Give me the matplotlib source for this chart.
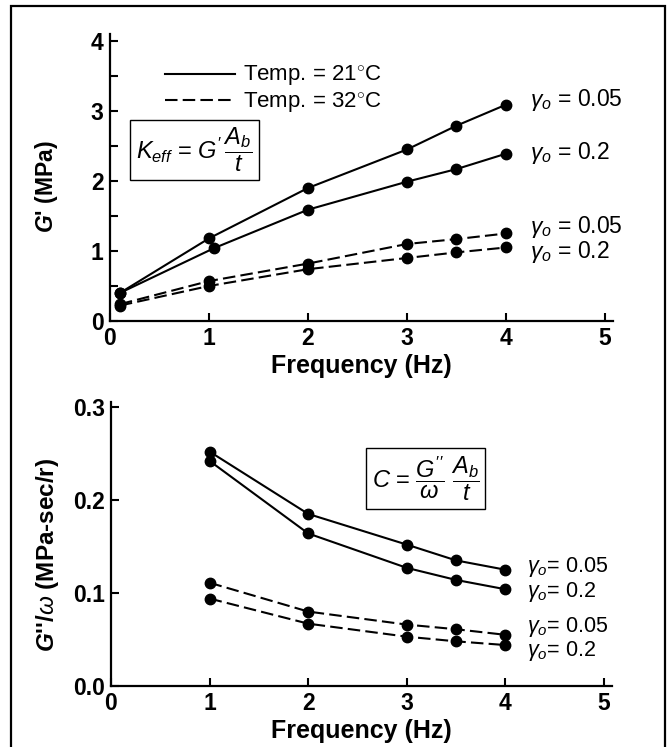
import numpy as np
import matplotlib.pyplot as plt
from matplotlib.lines import Line2D
from matplotlib.patches import Rectangle
import matplotlib
matplotlib.rcParams['font.family'] = 'Liberation Sans'
matplotlib.rcParams['mathtext.fontset'] = 'custom'
matplotlib.rcParams['mathtext.rm'] = 'Liberation Sans'
matplotlib.rcParams['mathtext.it'] = 'Liberation Sans:italic'
matplotlib.rcParams['mathtext.bf'] = 'Liberation Sans:bold:italic'

# storage modulus G' (MPa) vs frequency
freq_g1 = [0.1, 1, 2, 3, 3.5, 4]
freq_g1_b = [0.1, 1.05, 2, 3, 3.5, 4]
g1_21_005 = [0.40, 1.18, 1.90, 2.45, 2.79, 3.09]
g1_21_02 = [0.40, 1.04, 1.59, 1.99, 2.17, 2.39]
g1_32_005 = [0.24, 0.57, 0.82, 1.10, 1.17, 1.25]
g1_32_02 = [0.22, 0.50, 0.74, 0.90, 0.98, 1.05]

# loss modulus / omega (MPa-sec/r) vs frequency
freq_g2 = [1, 2, 3, 3.5, 4]
g2_21_005 = [0.252, 0.185, 0.152, 0.135, 0.125]
g2_21_02 = [0.242, 0.164, 0.127, 0.114, 0.104]
g2_32_005 = [0.111, 0.080, 0.066, 0.061, 0.055]
g2_32_02 = [0.094, 0.067, 0.053, 0.048, 0.044]

xticks = [0, 1, 2, 3, 4, 5]
lw = 1.5
ms = 7.5
dash = (0, (6, 2.5))
tf = 16.5
lf = 18
gf = 16.5

fig = plt.figure(figsize=(6.67, 7.47), dpi=100)
ax1 = fig.add_axes([0.1649, 0.5703, 0.754, 0.3842])
ax2 = fig.add_axes([0.1664, 0.0817, 0.751, 0.3797])

def style(ax):
    for s in ('top', 'right'):
        ax.spines[s].set_visible(False)
    for s in ('left', 'bottom'):
        ax.spines[s].set_linewidth(1.6)
    ax.set_xlim(0, 5.08)
    ax.set_xticks(xticks)
    ax.tick_params(which='both', direction='in', length=6, width=1.5, pad=4.5, labelsize=tf)
    for lab in ax.get_xticklabels() + ax.get_yticklabels():
        lab.set_fontweight('bold')
    ax.set_xlabel('Frequency (Hz)', fontsize=lf, fontweight='bold', labelpad=2.5)

# top panel
ax1.plot(freq_g1, g1_21_005, '-o', color='black', lw=lw, ms=ms)
ax1.plot(freq_g1_b, g1_21_02, '-o', color='black', lw=lw, ms=ms)
ax1.plot(freq_g1, g1_32_005, 'o', color='black', ls=dash, lw=lw, ms=ms)
ax1.plot(freq_g1, g1_32_02, 'o', color='black', ls=dash, lw=lw, ms=ms)
ax1.set_ylim(0, 4.1)
ax1.set_yticks([0, 1, 2, 3, 4])
ax1.set_yticks([0.5, 1.5, 2.5, 3.5], minor=True)
style(ax1)

handles = [Line2D([], [], color='black', lw=lw),
           Line2D([], [], color='black', lw=lw, ls=dash)]
ax1.legend(handles, [r'Temp. = 21$^{\circ}$C', r'Temp. = 32$^{\circ}$C'],
           loc='upper left', bbox_to_anchor=(0.07, 0.965), frameon=False,
           fontsize=16, handlelength=3.15, handletextpad=0.35, labelspacing=0.1)

ax1.text(0.853, 2.44, r"$K_{eff}$ = $G'\,\dfrac{A_b}{t}$", fontsize=17,
         ha='center', va='center',
         bbox=dict(boxstyle='square,pad=0.25', fc='white', ec='black', lw=1))

g_labels1 = [r'$\gamma_o$ = 0.05', r'$\gamma_o$ = 0.2', r'$\gamma_o$ = 0.05', r'$\gamma_o$ = 0.2']
g_y1 = [3.16, 2.40, 1.34, 0.99]
for lab, y in zip(g_labels1, g_y1):
    ax1.text(4.24, y, lab, fontsize=gf, va='center', ha='left', clip_on=False)

# bottom panel
ax2.plot(freq_g2, g2_21_005, '-o', color='black', lw=lw, ms=ms)
ax2.plot(freq_g2, g2_21_02, '-o', color='black', lw=lw, ms=ms)
ax2.plot(freq_g2, g2_32_005, 'o', color='black', ls=dash, lw=lw, ms=ms)
ax2.plot(freq_g2, g2_32_02, 'o', color='black', ls=dash, lw=lw, ms=ms)
ax2.set_ylim(0, 0.305)
ax2.set_yticks([0.0, 0.1, 0.2, 0.3])
ax2.set_yticklabels(['0.0', '0.1', '0.2', '0.3'])
style(ax2)

ax2.text(3.19, 0.223, r"$C$ = $\dfrac{G''}{\omega}\ \dfrac{A_b}{t}$", fontsize=17,
         ha='center', va='center',
         bbox=dict(boxstyle='square,pad=0.25', fc='white', ec='black', lw=1))

g_labels2 = [r'$\gamma_o$= 0.05', r'$\gamma_o$= 0.2', r'$\gamma_o$= 0.05', r'$\gamma_o$= 0.2']
g_y2 = [0.128, 0.101, 0.063, 0.038]
for lab, y in zip(g_labels2, g_y2):
    ax2.text(4.22, y, lab, fontsize=15.5, va='center', ha='left', clip_on=False)

fig.text(47/667, 1-187/747, r"$\mathbf{G}$' (MPa)", rotation=90, ha='center', va='center',
         fontsize=16.5, fontweight='bold')
fig.text(48/667, 1-555/747, r"$\mathbf{G}$''/$\omega$ (MPa-sec/r)", rotation=90, ha='center',
         va='center', fontsize=17.5, fontweight='bold')

fig.add_artist(Rectangle((11/667, -0.05), 654/667, 1.05 - 6/747, transform=fig.transFigure,
                         fill=False, ec='black', lw=1.6))

fig.savefig('out.png', dpi=100)
